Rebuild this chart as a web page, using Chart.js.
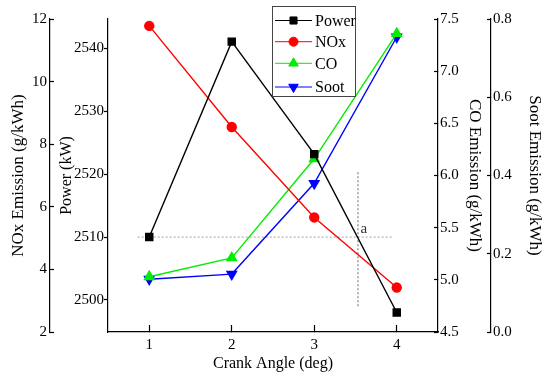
<!DOCTYPE html>
<html>
<head>
<meta charset="utf-8">
<script src="https://cdn.jsdelivr.net/npm/chart.js@4"></script>
<style>
  html, body { margin: 0; padding: 0; background: #fff; }
  #chart { display: block; }
</style>
</head>
<body>
<canvas id="chart" width="550" height="382"></canvas>
<script>
// Crank angle on the x axis
const crankAngle = [1, 2, 3, 4];

// Series
const powerKW = [2510.0, 2541.1, 2523.2, 2498.0];
const noxEmission = [11.78, 8.55, 5.66, 3.42];
const coEmission = [5.03, 5.21, 6.16, 7.36];
const sootEmission = [0.135, 0.148, 0.38, 0.754];

// Tick values
const xTicks = [1, 2, 3, 4];
const noxTicks = [2, 4, 6, 8, 10, 12];
const powerTicks = [2500, 2510, 2520, 2530, 2540];
const coTicks = [4.5, 5.0, 5.5, 6.0, 6.5, 7.0, 7.5];
const sootTicks = [0.0, 0.2, 0.4, 0.6, 0.8];

// Guide lines (crank angle, power)
const guideH = [[0.86, 2510], [3.96, 2510]];
const guideV = [[3.53, 2499], [3.53, 2520.3]];

const serif = '"Liberation Serif", "DejaVu Serif", serif';

function points(xs, ys) {
    return xs.map((x, i) => ({ x: x, y: ys[i] }));
}

function fixTicks(values) {
    return function(scale) {
        scale.ticks = values.map(v => ({ value: v }));
    };
}

function setWidth(w) {
    return function(scale) { scale.width = w; };
}

function yAxis(opts) {
    return {
        type: 'linear',
        position: opts.position,
        weight: opts.weight,
        min: opts.min,
        max: opts.max,
        afterBuildTicks: fixTicks(opts.ticks),
        afterFit: setWidth(opts.width),
        border: { display: true, color: '#000', width: 1.2 },
        grid: { drawOnChartArea: false, tickLength: opts.tickLength, color: '#000', tickWidth: 1.2 },
        ticks: {
            padding: opts.padding,
            color: '#000',
            font: { family: serif, size: 15 },
            callback: opts.format
        },
        title: {
            display: true,
            text: opts.title,
            color: '#000',
            font: { family: serif, size: opts.titleSize },
            padding: { top: opts.titlePad, bottom: 0 }
        }
    };
}

const seriesDefaults = {
    showLine: true,
    borderWidth: 1.4,
    xAxisID: 'x'
};

const datasets = [
    Object.assign({}, seriesDefaults, {
        label: 'Power',
        data: points(crankAngle, powerKW),
        yAxisID: 'power',
        borderColor: '#000',
        backgroundColor: '#000',
        pointStyle: 'rect',
        pointRadius: 5
    }),
    Object.assign({}, seriesDefaults, {
        label: 'NOx',
        data: points(crankAngle, noxEmission),
        yAxisID: 'nox',
        borderColor: '#ff0000',
        backgroundColor: '#ff0000',
        pointStyle: 'circle',
        pointRadius: 4.5
    }),
    Object.assign({}, seriesDefaults, {
        label: 'CO',
        data: points(crankAngle, coEmission),
        yAxisID: 'co',
        borderColor: '#00ee00',
        backgroundColor: '#00ee00',
        pointStyle: 'triangle',
        pointRadius: 5.5
    }),
    Object.assign({}, seriesDefaults, {
        label: 'Soot',
        data: points(crankAngle, sootEmission),
        yAxisID: 'soot',
        borderColor: '#0000ff',
        backgroundColor: '#0000ff',
        pointStyle: 'triangle',
        pointRotation: 180,
        pointRadius: 5.5
    }),
    {
        label: 'guideH',
        data: guideH.map(p => ({ x: p[0], y: p[1] })),
        showLine: true,
        xAxisID: 'x',
        yAxisID: 'power',
        borderColor: '#a0a0a0',
        borderWidth: 1,
        borderDash: [2, 2],
        pointRadius: 0,
        order: 5
    },
    {
        label: 'guideV',
        data: guideV.map(p => ({ x: p[0], y: p[1] })),
        showLine: true,
        xAxisID: 'x',
        yAxisID: 'power',
        borderColor: '#666',
        borderWidth: 1,
        borderDash: [2, 2],
        pointRadius: 0,
        order: 5
    }
];

// Legend box and the "a" mark, drawn after the chart
const extras = {
    id: 'extras',
    afterDraw(chart) {
        const ctx = chart.ctx;
        const sx = chart.scales.x;
        const sp = chart.scales.power;

        // "a" label near the guide crossing
        ctx.save();
        ctx.fillStyle = '#333';
        ctx.font = '15px ' + serif;
        ctx.textAlign = 'center';
        ctx.textBaseline = 'middle';
        ctx.fillText('a', sx.getPixelForValue(3.6), sp.getPixelForValue(2511.3));
        ctx.restore();

        // legend
        const box = { x: 272.5, y: 6.5, w: 83, h: 90 };
        const rows = [20.5, 41.7, 63.3, 87];
        ctx.save();
        ctx.fillStyle = '#fff';
        ctx.fillRect(box.x, box.y, box.w, box.h);
        ctx.strokeStyle = '#444';
        ctx.lineWidth = 1;
        ctx.strokeRect(box.x, box.y, box.w, box.h);
        ctx.font = '16px ' + serif;
        ctx.textBaseline = 'middle';
        ctx.textAlign = 'left';
        for (let i = 0; i < 4; i++) {
            const ds = chart.data.datasets[i];
            const y = rows[i];
            ctx.strokeStyle = ds.borderColor;
            ctx.lineWidth = 1;
            ctx.beginPath();
            ctx.moveTo(275, y);
            ctx.lineTo(312, y);
            ctx.stroke();
            ctx.fillStyle = ds.backgroundColor;
            Chart.helpers.drawPoint(ctx, {
                pointStyle: ds.pointStyle,
                radius: ds.pointRadius,
                rotation: ds.pointRotation || 0,
                borderWidth: 1
            }, 293.5, y);
            ctx.fillStyle = '#000';
            ctx.fillText(ds.label, 315, y + 1);
        }
        ctx.restore();
    }
};

new Chart(document.getElementById('chart'), {
    type: 'scatter',
    data: { datasets: datasets },
    options: {
        responsive: false,
        animation: false,
        events: [],
        layout: { padding: { top: 19, left: 0, right: 0, bottom: 0 } },
        plugins: {
            legend: { display: false },
            tooltip: { enabled: false }
        },
        scales: {
            x: {
                type: 'linear',
                position: 'bottom',
                min: 0.5,
                max: 4.5,
                afterBuildTicks: fixTicks(xTicks),
                afterFit: function(scale) { scale.height = 50; },
                border: { display: true, color: '#000', width: 1.2 },
                grid: { drawOnChartArea: false, tickLength: -7, color: '#000', tickWidth: 1.2 },
                ticks: {
                    padding: 11,
                    color: '#000',
                    font: { family: serif, size: 15 }
                },
                title: {
                    display: true,
                    text: 'Crank Angle (deg)',
                    color: '#000',
                    font: { family: serif, size: 16 },
                    padding: { top: 0, bottom: 9 }
                }
            },
            nox: yAxis({
                position: 'left', weight: 2, min: 2, max: 12, ticks: noxTicks,
                width: 50, tickLength: -4, padding: 7, titlePad: 8, titleSize: 17,
                title: 'NOx Emission (g/kWh)',
                format: v => String(v)
            }),
            power: yAxis({
                position: 'left', weight: 1, min: 2494.9, max: 2544.7, ticks: powerTicks,
                width: 58, tickLength: 4, padding: 0, titlePad: 7, titleSize: 16,
                title: 'Power (kW)',
                format: v => String(v)
            }),
            co: yAxis({
                position: 'right', weight: 1, min: 4.5, max: 7.5, ticks: coTicks,
                width: 53, tickLength: -4, padding: 6, titlePad: 6, titleSize: 17,
                title: 'CO Emission (g/kWh)',
                format: v => v.toFixed(1)
            }),
            soot: yAxis({
                position: 'right', weight: 2, min: 0, max: 0.8, ticks: sootTicks,
                width: 59, tickLength: -4, padding: 6, titlePad: 5, titleSize: 17,
                title: 'Soot Emission (g/kWh)',
                format: v => v.toFixed(1)
            })
        }
    },
    plugins: [extras]
});
</script>
</body>
</html>
